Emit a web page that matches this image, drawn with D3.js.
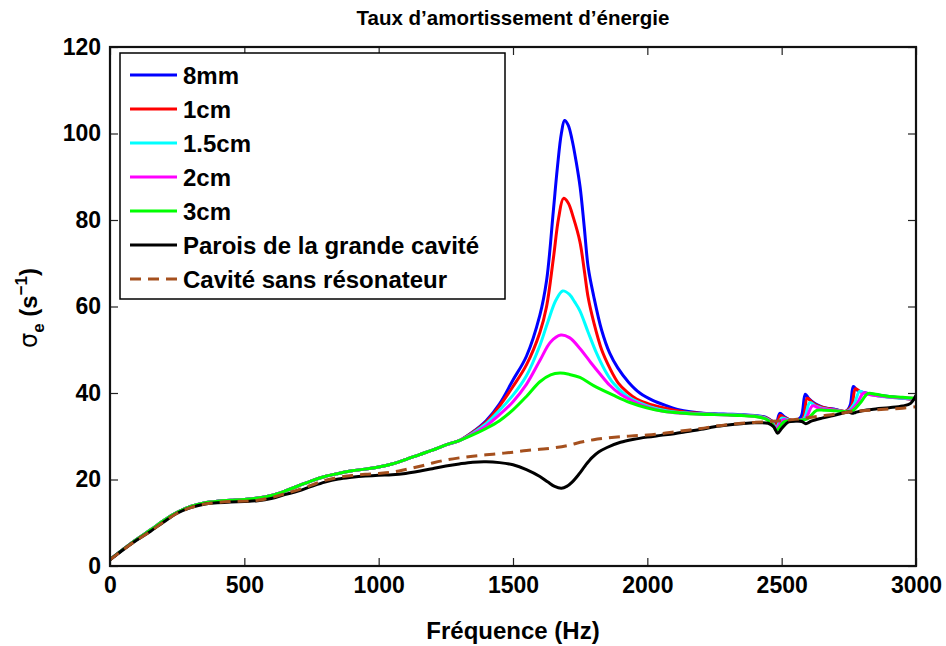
<!DOCTYPE html>
<html>
<head>
<meta charset="utf-8">
<script src="https://cdn.jsdelivr.net/npm/d3@7"></script>
<style>
  body { margin: 0; background: #fff; }
  text { font-family: "Liberation Sans", Arial, sans-serif; font-weight: bold; }
</style>
</head>
<body>
<div id="chart"></div>
<script>
// values: [frequency (Hz), sigma_e (1/s)]
// the five resonator curves coincide below ~1300 Hz
var resonLow = [[0,1.5],[50,3.9],[100,6.2],[150,8.3],[200,10.5],[250,12.4],[300,13.8],[350,14.6],[400,15.0],
  [450,15.2],[500,15.4],[550,15.7],[600,16.3],[650,17.3],[700,18.5],[750,19.7],[800,20.7],[850,21.4],
  [900,22.0],[950,22.4],[1000,22.9],[1050,23.6],[1100,24.6],[1150,25.7],[1200,26.8],[1250,28.0],[1300,29.0]];

var r8mm = resonLow.concat([[1350,31.0],[1400,33.6],[1450,37.5],[1500,43],[1550,48.5],[1600,58],[1625,66],
  [1650,82],[1665,92],[1680,100],[1692,103],[1705,102],[1720,98.5],[1735,93.5],[1750,87.5],[1765,78.5],
  [1780,69],[1800,62.5],[1830,54.5],[1860,49.2],[1890,45.8],[1930,42.5],[1972,40],[2020,38.3],[2070,37.1],
  [2121,36.1],[2200,35.4],[2250,35.2],[2300,35.1],[2350,35.0],[2400,34.8],[2440,34.4],[2465,33.5],
  [2480,33.2],[2493,35.3],[2510,34.5],[2530,33.8],[2550,33.6],[2572,34.5],[2588,39.7],[2600,38.8],
  [2625,37.5],[2650,36.8],[2700,36.2],[2740,35.8],[2755,37.2],[2767,41.5],[2780,40.7],[2800,40.2],
  [2850,39.6],[2900,39.2],[2950,38.8],[3000,38.6]]);

var r1cm = resonLow.concat([[1350,30.9],[1400,33.3],[1450,37.0],[1500,41.5],[1550,46.5],[1600,54],[1625,60],
  [1650,71],[1670,80.5],[1688,85],[1705,84],[1725,80.5],[1749,75],[1765,68.5],[1780,62],[1800,56.5],
  [1830,50],[1860,45.8],[1892,42.3],[1925,40.2],[1960,38.6],[2000,37.6],[2050,36.7],[2100,36.0],
  [2150,35.5],[2200,35.3],[2250,35.1],[2300,35.0],[2350,34.9],[2400,34.7],[2440,34.3],[2465,33.4],
  [2480,32.5],[2495,34.8],[2510,34.3],[2530,33.8],[2550,33.6],[2578,34.0],[2595,38.8],[2610,38.0],
  [2625,37.3],[2650,36.7],[2700,36.1],[2740,35.8],[2760,37.0],[2775,41.0],[2790,40.4],[2800,40.1],
  [2850,39.5],[2900,39.1],[2950,38.8],[3000,38.5]]);

var r15cm = resonLow.concat([[1350,30.7],[1400,32.9],[1450,36.0],[1500,39.5],[1550,44],[1600,51],[1630,56.5],
  [1660,61.5],[1685,63.6],[1710,62.8],[1730,61],[1749,59],[1780,54],[1811,49.2],[1840,45.5],[1873,42.3],
  [1920,39.5],[1972,37.7],[2020,36.6],[2070,35.9],[2120,35.5],[2200,35.2],[2250,35.1],[2300,35.0],
  [2350,34.9],[2400,34.7],[2440,34.2],[2465,33.2],[2480,32.0],[2500,34.2],[2515,34.0],[2530,33.7],
  [2555,33.6],[2582,34.0],[2605,37.8],[2625,37.0],[2650,36.5],[2700,36.0],[2745,35.8],[2770,37.5],
  [2790,40.4],[2810,39.9],[2850,39.4],[2900,39.0],[2950,38.8],[3000,38.6]]);

var r2cm = resonLow.concat([[1350,30.5],[1400,32.4],[1450,35.0],[1500,38],[1550,42],[1600,47.5],[1640,51.8],
  [1678,53.4],[1710,52.8],[1749,50.3],[1790,47],[1824,44.4],[1860,41.8],[1900,39.7],[1935,38.5],
  [1980,37.2],[2030,36.2],[2080,35.6],[2130,35.3],[2200,35.1],[2250,35.0],[2300,34.9],[2350,34.8],
  [2400,34.6],[2440,34.1],[2465,33.0],[2480,31.8],[2505,33.8],[2530,33.6],[2560,33.6],[2588,34.0],
  [2615,37.0],[2640,36.5],[2700,36.0],[2750,35.8],[2780,37.5],[2805,40.0],[2830,39.6],[2900,39.1],
  [2950,38.9],[3000,38.7]]);

var r3cm = resonLow.concat([[1350,30.3],[1400,31.8],[1450,33.6],[1500,36.1],[1550,39.2],[1600,42.6],
  [1640,44.2],[1675,44.6],[1710,44.3],[1749,43.6],[1800,41.7],[1873,39.5],[1935,37.8],[1997,36.6],
  [2060,35.8],[2121,35.4],[2200,35.1],[2250,35.0],[2300,34.9],[2350,34.8],[2400,34.6],[2440,34.0],
  [2465,32.8],[2480,31.4],[2510,33.4],[2550,33.6],[2595,34.0],[2630,36.0],[2660,36.0],[2700,35.9],
  [2760,35.8],[2790,37.5],[2822,39.9],[2850,39.7],[2900,39.2],[2950,39.0],[3000,38.8]]);

var parois = [[0,1.4],[50,3.8],[100,6.0],[150,8.0],[200,10.2],[250,12.2],[300,13.5],[350,14.3],[400,14.6],
  [450,14.8],[500,14.9],[550,15.1],[600,15.6],[650,16.5],[700,17.3],[750,18.4],[800,19.4],[850,20.1],
  [900,20.5],[950,20.8],[1000,21.0],[1050,21.1],[1100,21.4],[1150,21.9],[1200,22.5],[1250,23.1],
  [1300,23.6],[1350,24.0],[1400,24.1],[1450,23.9],[1500,23.4],[1550,22.3],[1600,20.7],[1630,19.4],
  [1655,18.4],[1680,18.0],[1700,18.4],[1720,19.4],[1745,21.2],[1770,23.3],[1795,25.1],[1820,26.4],
  [1850,27.4],[1900,28.6],[1950,29.3],[2000,29.8],[2050,30.2],[2100,30.6],[2150,31.1],[2200,31.6],
  [2250,32.2],[2300,32.6],[2350,32.9],[2400,33.1],[2450,33.0],[2470,32.2],[2485,30.7],[2500,31.8],
  [2525,33.3],[2550,33.5],[2575,33.4],[2590,32.9],[2610,33.5],[2650,34.2],[2700,34.9],[2750,35.6],
  [2762,35.3],[2775,35.5],[2800,35.9],[2850,36.3],[2900,36.6],[2950,37.0],[2980,37.6],[3000,39.5]];

var sansReso = [[0,1.4],[50,3.8],[100,6.0],[150,8.0],[200,10.2],[250,12.2],[300,13.5],[350,14.3],[400,14.7],
  [450,14.9],[500,15.0],[550,15.2],[600,15.8],[650,16.7],[700,17.6],[750,18.7],[800,19.8],[850,20.5],
  [900,20.9],[950,21.2],[1000,21.4],[1050,21.7],[1100,22.3],[1150,23.0],[1200,23.8],[1250,24.5],
  [1300,25.0],[1350,25.4],[1400,25.7],[1450,26.0],[1500,26.3],[1550,26.7],[1600,27.0],[1650,27.3],
  [1700,27.8],[1750,28.6],[1800,29.2],[1850,29.6],[1900,29.9],[1950,30.1],[2000,30.3],[2050,30.6],
  [2100,31.0],[2150,31.4],[2200,31.8],[2250,32.3],[2300,32.7],[2350,33.0],[2400,33.2],[2450,33.4],
  [2500,33.6],[2550,33.9],[2600,34.3],[2650,34.7],[2700,35.1],[2750,35.6],[2800,35.9],[2850,36.1],
  [2900,36.3],[2950,36.5],[3000,36.8]];

var seriesNames = ["8mm", "1cm", "1.5cm", "2cm", "3cm", "Parois de la grande cavité", "Cavité sans résonateur"];
var seriesData = [r8mm, r1cm, r15cm, r2cm, r3cm, parois, sansReso];
var seriesColors = ["#0000ff", "#ff0000", "#00ffff", "#ff00ff", "#00ff00", "#000000", "#a5501e"];

var xTicks = [0, 500, 1000, 1500, 2000, 2500, 3000];
var yTicks = [0, 20, 40, 60, 80, 100, 120];

// layout
var W = 946, H = 646;
var margin = {top: 47, right: 30, bottom: 80, left: 110},
    width = W - margin.left - margin.right,
    height = H - margin.top - margin.bottom;

var svg = d3.select("#chart").append("svg")
    .attr("width", W).attr("height", H);

var g = svg.append("g")
    .attr("transform", "translate(" + margin.left + "," + margin.top + ")");

var x = d3.scaleLinear().domain([0, 3000]).range([0, width]);
var y = d3.scaleLinear().domain([0, 120]).range([height, 0]);

// clip curves to the plot box
svg.append("defs").append("clipPath").attr("id", "clip")
  .append("rect").attr("width", width).attr("height", height);

var line = d3.line()
    .x(function(d) { return x(d[0]); })
    .y(function(d) { return y(d[1]); })
    .curve(d3.curveCatmullRom.alpha(0.5));

var curves = g.append("g").attr("clip-path", "url(#clip)");
seriesData.forEach(function(s, i) {
  curves.append("path")
    .datum(s)
    .attr("fill", "none")
    .attr("stroke", seriesColors[i])
    .attr("stroke-width", 3)
    .attr("stroke-linejoin", "round")
    .attr("stroke-dasharray", i == 6 ? "11,7" : null)
    .attr("d", line);
});

// axes, ticks pointing inward like matlab
function styleAxis(sel) {
  sel.select(".domain").remove();
  sel.selectAll(".tick line").attr("stroke", "#222").attr("stroke-width", 1.2);
  sel.selectAll("text").style("font-size", "23px").attr("fill", "#000");
}
g.append("g").attr("transform", "translate(0," + height + ")")
  .call(d3.axisBottom(x).tickValues(xTicks).tickSize(-8).tickPadding(11).tickFormat(d3.format("d")))
  .call(styleAxis);
g.append("g")
  .call(d3.axisLeft(y).tickValues(yTicks).tickSize(-8).tickPadding(9).tickFormat(d3.format("d")))
  .call(styleAxis);
g.append("g")
  .call(d3.axisTop(x).tickValues(xTicks).tickSize(-8).tickFormat(""))
  .call(styleAxis);
g.append("g").attr("transform", "translate(" + width + ",0)")
  .call(d3.axisRight(y).tickValues(yTicks).tickSize(-8).tickFormat(""))
  .call(styleAxis);

g.append("rect")
  .attr("width", width).attr("height", height)
  .attr("fill", "none").attr("stroke", "#111").attr("stroke-width", 2.2);

// title and labels
svg.append("text")
  .attr("x", margin.left + width / 2).attr("y", 25)
  .attr("text-anchor", "middle").style("font-size", "20.5px")
  .text("Taux d’amortissement d’énergie");

svg.append("text")
  .attr("x", margin.left + width / 2).attr("y", 639)
  .attr("text-anchor", "middle").style("font-size", "24px")
  .text("Fréquence (Hz)");

var yl = svg.append("text")
  .attr("transform", "translate(37,308) rotate(-90)")
  .attr("text-anchor", "middle").style("font-size", "24px");
yl.append("tspan").style("font-weight", "normal").style("font-family", "'DejaVu Sans', sans-serif").text("σ");
yl.append("tspan").attr("dy", 7).style("font-size", "17px").text("e");
yl.append("tspan").attr("dy", -7).text(" (s");
yl.append("tspan").attr("dy", -10).style("font-size", "17px").text("−1");
yl.append("tspan").attr("dy", 10).text(")");

// legend
var lg = svg.append("g").attr("transform", "translate(120,53)");
lg.append("rect")
  .attr("width", 385).attr("height", 246)
  .attr("fill", "#fff").attr("stroke", "#000").attr("stroke-width", 1.5);
seriesNames.forEach(function(name, i) {
  var ly = 22 + i * 34;
  lg.append("line")
    .attr("x1", 10).attr("x2", 57).attr("y1", ly).attr("y2", ly)
    .attr("stroke", seriesColors[i]).attr("stroke-width", 3)
    .attr("stroke-dasharray", i == 6 ? "11,7" : null);
  lg.append("text")
    .attr("x", 63).attr("y", ly).attr("dy", "0.36em")
    .style("font-size", "24px")
    .text(name);
});
</script>
</body>
</html>
